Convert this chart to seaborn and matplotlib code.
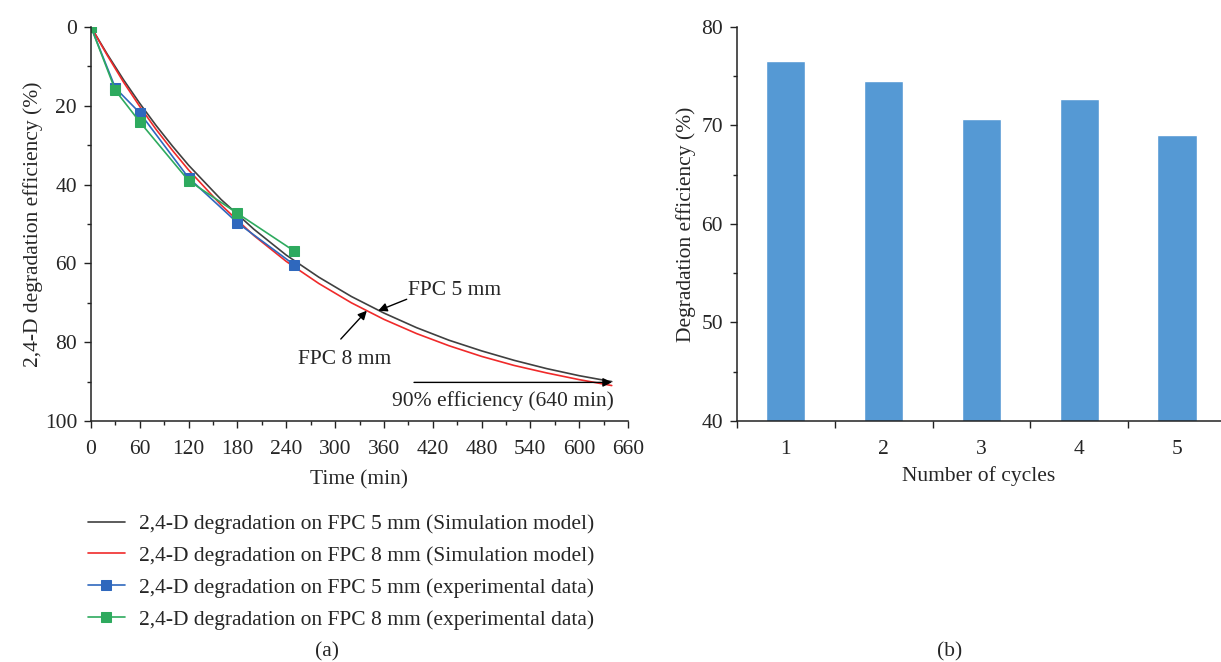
import matplotlib
matplotlib.use("Agg")
import matplotlib.pyplot as plt
import seaborn as sns
import pandas as pd
from matplotlib.ticker import MultipleLocator, FixedLocator, NullFormatter

# ---- data ----
sim_time = [0, 20, 40, 60, 80, 100, 120, 160, 200, 240, 280, 320, 360, 400, 440, 480, 520, 560, 600, 640]
sim_5mm = [0, 6.9, 13.4, 19.4, 25.0, 30.2, 35.1, 43.8, 51.3, 57.9, 63.5, 68.4, 72.6, 76.3, 79.5, 82.2, 84.6, 86.7, 88.5, 90.0]
sim_8mm = [0, 7.2, 14.0, 20.2, 26.0, 31.3, 36.3, 45.2, 52.9, 59.5, 65.1, 70.0, 74.2, 77.8, 80.9, 83.6, 85.9, 87.8, 89.5, 91.0]

exp_time = [0, 30, 60, 120, 180, 250]
exp_5mm = [0, 15.5, 21.8, 38.3, 49.7, 60.4]
exp_8mm = [0, 16.1, 24.1, 39.0, 47.3, 56.9]

cycles = ["1", "2", "3", "4", "5"]
cycle_eff = [76.5, 74.5, 70.7, 72.7, 69.0]

labels = [
    "2,4-D degradation on FPC 5 mm (Simulation model)",
    "2,4-D degradation on FPC 8 mm (Simulation model)",
    "2,4-D degradation on FPC 5 mm (experimental data)",
    "2,4-D degradation on FPC 8 mm (experimental data)",
]

sns.set_style("ticks")
plt.rcParams["font.family"] = ["Liberation Serif", "DejaVu Serif"]
plt.rcParams["xtick.direction"] = "out"
plt.rcParams["ytick.direction"] = "out"

W, H = 1221, 662
fig = plt.figure(figsize=(W / 100, H / 100), dpi=100)
ax1 = fig.add_axes([91 / W, 1 - 421 / H, (628 - 91) / W, (421 - 27) / H])
ax2 = fig.add_axes([737 / W, 1 - 421 / H, (1221 - 737) / W, (421 - 27) / H])

fs = 15.5
c_black = "#404040"
c_red = "#f02a2a"
c_blue = "#2f68bd"
c_green = "#2eaa5e"

sim_df = pd.DataFrame({"t": sim_time, "s5": sim_5mm, "s8": sim_8mm})
exp_df = pd.DataFrame({"t": exp_time, "e5": exp_5mm, "e8": exp_8mm})

sns.lineplot(data=sim_df, x="t", y="s5", ax=ax1, color=c_black, lw=1.2, label=labels[0])
sns.lineplot(data=sim_df, x="t", y="s8", ax=ax1, color=c_red, lw=1.2, label=labels[1])
sns.lineplot(data=exp_df, x="t", y="e5", ax=ax1, color=c_blue, lw=1.2, marker="s",
             markersize=7, markeredgecolor=c_blue, label=labels[2])
sns.lineplot(data=exp_df, x="t", y="e8", ax=ax1, color=c_green, lw=1.2, marker="s",
             markersize=7, markeredgecolor=c_green, label=labels[3])

ax1.set_xlim(0, 660)
ax1.set_ylim(100, 0)
ax1.xaxis.set_major_locator(MultipleLocator(60))
ax1.xaxis.set_minor_locator(MultipleLocator(30))
ax1.yaxis.set_major_locator(MultipleLocator(20))
ax1.yaxis.set_minor_locator(MultipleLocator(10))
ax1.set_xlabel("Time (min)", fontsize=fs, labelpad=8)
ax1.set_ylabel("2,4-D degradation efficiency (%)", fontsize=fs, labelpad=1)
for ax in (ax1, ax2):
    ax.tick_params(axis="both", which="major", labelsize=fs, length=5, width=1,
                   color="#222222", pad=5)
    ax.tick_params(axis="both", which="minor", length=3, width=1, color="#222222")
    for s in ("left", "bottom"):
        ax.spines[s].set_color("#222222")
        ax.spines[s].set_linewidth(1.1)
ax1.tick_params(axis="x", which="major", pad=9)
sns.despine(ax=ax1)

arrow = dict(arrowstyle="-|>", color="black", lw=1.0, mutation_scale=13, shrinkA=0, shrinkB=0)
ax1.annotate("", xy=(353, 72.0), xytext=(388, 69.1), arrowprops=arrow)
ax1.text(390, 66.8, "FPC 5 mm", fontsize=fs, va="center", ha="left")
ax1.annotate("", xy=(339, 72.0), xytext=(307, 79.2), arrowprops=arrow)
ax1.text(254, 84.3, "FPC 8 mm", fontsize=fs, va="center", ha="left")
ax1.annotate("", xy=(640, 90.2), xytext=(397, 90.2), arrowprops=arrow)
ax1.text(370, 94.9, "90% efficiency (640 min)", fontsize=fs, va="center", ha="left")

handles, labs = ax1.get_legend_handles_labels()
ax1.get_legend().remove()
fig.legend(handles, labs, loc="upper left", bbox_to_anchor=(88 / W, 1 - 514 / H),
           frameon=False, fontsize=fs, handlelength=1.7, handletextpad=0.65,
           labelspacing=0.55, borderpad=0, borderaxespad=0)

# ---- right panel ----
bar_df = pd.DataFrame({"cycle": cycles, "eff": cycle_eff})
sns.barplot(data=bar_df, x="cycle", y="eff", ax=ax2, color="#5599d4", saturation=1,
            width=0.4)
ax2.set_xlim(-0.5, 4.45)
ax2.set_ylim(40, 80)
ax2.yaxis.set_major_locator(MultipleLocator(10))
ax2.yaxis.set_minor_locator(MultipleLocator(5))
ax2.xaxis.set_major_locator(FixedLocator([-0.5, 0.5, 1.5, 2.5, 3.5]))
ax2.xaxis.set_major_formatter(NullFormatter())
ax2.xaxis.set_minor_locator(FixedLocator([0, 1, 2, 3, 4]))
ax2.set_xticklabels(cycles, minor=True)
ax2.tick_params(axis="x", which="minor", length=0, labelsize=fs, pad=14)
ax2.set_xlabel("Number of cycles", fontsize=fs, labelpad=5)
ax2.set_ylabel("Degradation efficiency (%)", fontsize=fs, labelpad=4)
sns.despine(ax=ax2)

fig.text(327 / W, 1 - 652 / H, "(a)", fontsize=fs, ha="center", va="center")
fig.text(950 / W, 1 - 652 / H, "(b)", fontsize=fs, ha="center", va="center")

fig.savefig("out.png", dpi=100)
